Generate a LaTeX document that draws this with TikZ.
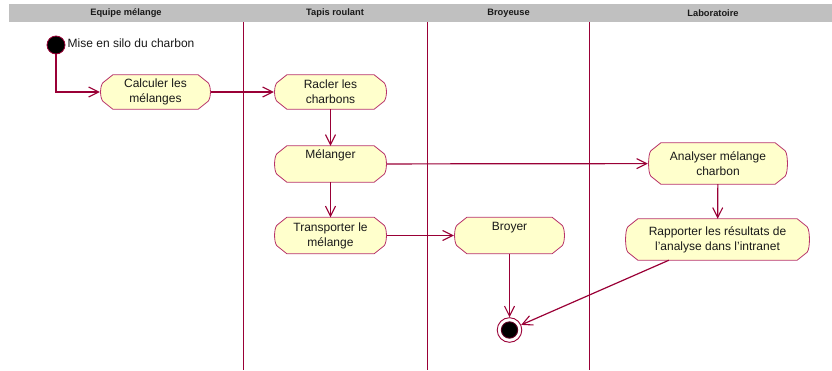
\documentclass[tikz,border=0pt]{standalone}
\usepackage{fontspec}
\setmainfont{Liberation Sans}
\usetikzlibrary{arrows.meta,calc,backgrounds}
\definecolor{crim}{HTML}{9A0036}
\definecolor{actborder}{HTML}{B8336A}
\definecolor{actfill}{HTML}{FFFFCC}
\definecolor{hdrgray}{HTML}{C0C0C0}
\begin{document}
\begin{tikzpicture}[x=1pt,y=-1pt,
  act/.style={rectangle,inner sep=0pt,align=center,minimum height=34pt,
    font=\fontsize{12}{15}\selectfont,text=black!90},
  hdr/.style={font=\fontsize{9.3}{11}\selectfont\bfseries,text=black!90},
  flow/.style={draw=crim,line width=1.2pt,-{Straight Barb[length=10pt,width=10pt,line width=1.1pt]}},
  lane/.style={draw=crim,line width=1pt}]
\useasboundingbox (0,0) rectangle (832,370);
% header
\fill[hdrgray] (9,4) rectangle (832,22);
\node[hdr] (h1) at (126,13) {Equipe mélange};
\node[hdr] (h2) at (335,13) {Tapis roulant};
\node[hdr] (h3) at (508.5,13) {Broyeuse};
\node[hdr] (h4) at (713,13) {Laboratoire};
% lanes
\draw[lane] (243.5,22) -- (243.5,370);
\draw[lane] (427.5,22) -- (427.5,370);
\draw[lane] (589.5,22) -- (589.5,370);
% nodes
\node[circle,fill=black,draw=crim,line width=0.8pt,minimum size=18pt,inner sep=0pt] (init) at (56,45) {};
\node[anchor=west,font=\fontsize{12}{14}\selectfont,text=black!90,inner sep=0pt] (initl) at (67.5,43.5) {Mise en silo du charbon};
\node[act,minimum width=111pt] (calc) at (155.5,92) {Calculer les\\mélanges};
\node[act,minimum width=113pt] (racl) at (330.5,92) {Racler les\\charbons};
\node[act,minimum width=113pt,minimum height=36pt] (mel) at (330.5,164) {Mélanger\\[5pt]\mbox{}};
\node[act,minimum width=113pt,minimum height=36pt] (trans) at (330.5,235.5) {Transporter le\\mélange};
\node[act,minimum width=111pt,minimum height=36pt] (broy) at (509.5,235.5) {Broyer\\[4pt]\mbox{}};
\node[act,minimum width=140pt,minimum height=41pt] (anal) at (718,163.5) {Analyser mélange\\charbon};
\node[act,minimum width=185pt,minimum height=41pt] (rapp) at (717.5,239.5) {Rapporter les résultats de\\l'analyse dans l'intranet};
\node[circle,draw=crim,line width=0.9pt,fill=white,minimum size=24.6pt,inner sep=0pt,
  path picture={\fill[black,draw=crim!60!black] (path picture bounding box.center) circle (8.2pt);}] (fin) at (509.5,330) {};
% activity shapes
\begin{scope}[on background layer]
\foreach \nm in {calc,racl,mel,trans,broy,anal,rapp}{
  \filldraw[fill=actfill,draw=actborder,line width=0.8pt]
    let \p1=(\nm.north west), \p2=(\nm.south east) in
    (\x1+13pt,\y1) -- (\x2-13pt,\y1) -- (\x2-3pt,\y1-8pt)
    .. controls (\x2,\y1-12pt) and (\x2,\y2+12pt) .. (\x2-3pt,\y2+8pt)
    -- (\x2-13pt,\y2) -- (\x1+13pt,\y2) -- (\x1+3pt,\y2+8pt)
    .. controls (\x1,\y2+12pt) and (\x1,\y1-12pt) .. (\x1+3pt,\y1-8pt) -- cycle;
}
\end{scope}
% connectors
\draw[flow] (init) |- (calc);
\draw[flow] (calc) -- (racl);
\draw[flow] (racl) -- (mel);
\draw[flow] (mel) -- (anal);
\draw[flow] (mel) -- (trans);
\draw[flow] (trans) -- (broy);
\draw[flow] (broy) -- (fin);
\draw[flow] (anal) -- (rapp);
\coordinate (rs) at ($(rapp.south west)!0.238!(rapp.south east)$);
\draw[flow] (rs) -- (fin);
\end{tikzpicture}
\end{document}
